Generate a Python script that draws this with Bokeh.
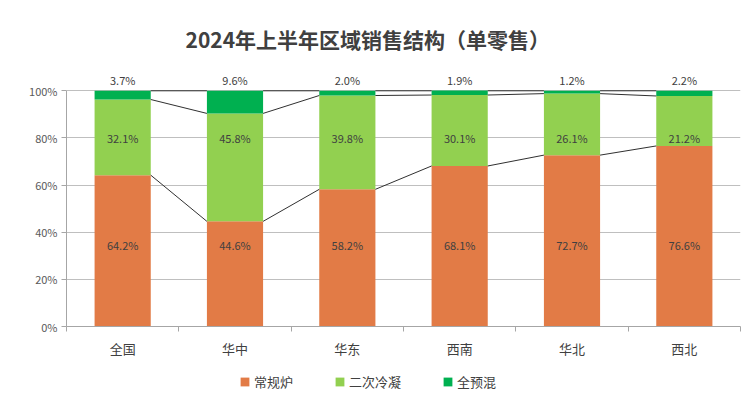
from bokeh.plotting import figure
from bokeh.models import FixedTicker, Legend, LegendItem, ColumnDataSource, Range1d
from bokeh.layouts import column
from bokeh.core.properties import value
from bokeh.embed import file_html
from bokeh.resources import INLINE

categories = ["全国", "华中", "华东", "西南", "华北", "西北"]
series_names = ["常规炉", "二次冷凝", "全预混"]
changgui = [64.2, 44.6, 58.2, 68.1, 72.7, 76.6]
erci = [32.1, 45.8, 39.8, 30.1, 26.1, 21.2]
quanyu = [3.7, 9.6, 2.0, 1.9, 1.2, 2.2]
colors = ["#E27B46", "#92D050", "#00B050"]
y_ticks = [0, 20, 40, 60, 80, 100]

FONT = "Noto Sans CJK SC"
n = len(categories)
xs = [i + 0.5 for i in range(n)]
bw = 0.5
label_heights = [34.5, 79.8, 100]  # label row heights used by the source chart

p = figure(width=743, height=360, output_backend="svg", toolbar_location=None,
           x_range=Range1d(0, n), y_range=Range1d(0, 112),
           min_border_left=66, min_border_right=3, min_border_top=62,
           min_border_bottom=31)
p.outline_line_color = None
p.background_fill_color = "white"
p.border_fill_color = "white"

p.title.text = "2024年上半年区域销售结构（单零售）"
p.title.text_font = FONT
p.title.text_font_size = "21px"
p.title.text_font_style = "bold"
p.title.text_color = "#404040"
p.title.align = "left"
p.title.offset = 119
p.title.standoff = 17

series = [changgui, erci, quanyu]
bottoms = [0.0] * n
tops_all = []
for k, vals in enumerate(series):
    tops = [b + v for b, v in zip(bottoms, vals)]
    src = ColumnDataSource(dict(x=xs, bottom=bottoms, top=tops, val=vals,
                                ly=[label_heights[k]] * n,
                                lab=[f"{v:.1f}%" for v in vals]))
    p.vbar(x="x", width=bw, bottom="bottom", top="top", source=src,
           fill_color=colors[k], line_color=None)
    if k < 2:
        p.text(x="x", y="ly", text="lab", source=src, text_align="center",
               text_baseline="middle", text_font=value(FONT), text_font_size="11px",
               text_color="#404040")
    else:
        p.text(x="x", y="ly", text="lab", source=src, text_align="center",
               text_baseline="bottom", y_offset=-3, text_font=value(FONT),
               text_font_size="11px", text_color="#404040")
    tops_all.append(tops)
    bottoms = tops

# series connector lines
for tops in tops_all:
    x0 = [xs[i] + bw / 2 for i in range(n - 1)]
    x1 = [xs[i + 1] - bw / 2 for i in range(n - 1)]
    y0 = [min(tops[i], 100) for i in range(n - 1)]
    y1 = [min(tops[i + 1], 100) for i in range(n - 1)]
    p.segment(x0=x0, y0=y0, x1=x1, y1=y1, line_color="#303030", line_width=1)

# axes
p.yaxis.ticker = FixedTicker(ticks=y_ticks)
p.yaxis.bounds = (0, 100)
p.yaxis.major_label_overrides = {t: f"{t}%" for t in y_ticks}
p.yaxis.axis_line_color = "#A6A6A6"
p.yaxis.major_tick_line_color = "#A6A6A6"
p.yaxis.major_tick_out = 5
p.yaxis.major_tick_in = 0
p.yaxis.minor_tick_line_color = None
p.yaxis.major_label_text_font = FONT
p.yaxis.major_label_text_font_size = "11px"
p.yaxis.major_label_text_color = "#595959"
p.yaxis.major_label_standoff = 4

p.xaxis.ticker = FixedTicker(ticks=xs, minor_ticks=list(range(n + 1)))
p.xaxis.major_label_overrides = {x: c for x, c in zip(xs, categories)}
p.xaxis.axis_line_color = "#A6A6A6"
p.xaxis.major_tick_line_color = None
p.xaxis.minor_tick_line_color = "#A6A6A6"
p.xaxis.minor_tick_out = 5
p.xaxis.minor_tick_in = 0
p.xaxis.major_label_text_font = FONT
p.xaxis.major_label_text_font_size = "13px"
p.xaxis.major_label_text_color = "#404040"
p.xaxis.major_label_standoff = 6

p.xgrid.grid_line_color = None
p.ygrid.ticker = FixedTicker(ticks=y_ticks)
p.ygrid.grid_line_color = "#BFBFBF"
p.ygrid.grid_line_width = 1

# legend strip
lg = figure(width=743, height=36, output_backend="svg", toolbar_location=None,
            x_range=Range1d(0, 1), y_range=Range1d(0, 1),
            x_axis_location=None, y_axis_location=None,
            min_border_left=0, min_border_right=0, min_border_top=0, min_border_bottom=0)
lg.grid.visible = False
lg.outline_line_color = None
leg_renderers = [lg.vbar(x=[-5], bottom=[-6], top=[-5], width=0.1,
                         fill_color=colors[k], line_color=None)
                 for k in range(3)]
legend = Legend(items=[LegendItem(label=series_names[k], renderers=[leg_renderers[k]]) for k in range(3)],
                orientation="horizontal", location=(173, 5))
legend.label_text_font = FONT
legend.label_text_font_size = "13px"
legend.label_text_color = "#404040"
legend.glyph_width = 11
legend.glyph_height = 11
legend.label_standoff = 4
legend.spacing = 41
legend.border_line_color = None
legend.background_fill_alpha = 0
legend.margin = 0
legend.padding = 4
lg.add_layout(legend)

layout = column(p, lg, spacing=0)
open("out.html", "w").write(file_html(layout, INLINE))
